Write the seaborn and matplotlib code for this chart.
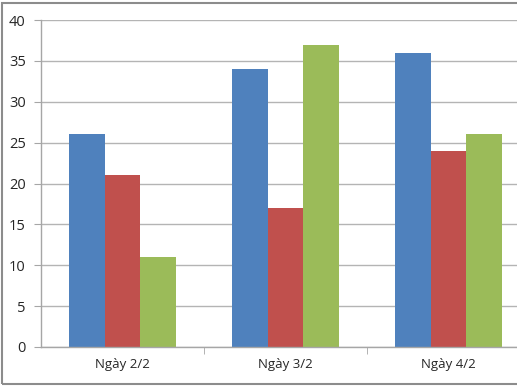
import pandas as pd
import seaborn as sns
import matplotlib.pyplot as plt
from matplotlib.patches import Rectangle

days = ["Ngày 2/2", "Ngày 3/2", "Ngày 4/2"]
series_names = ["S1", "S2", "S3"]
s1 = [26, 34, 36]
s2 = [21, 17, 24]
s3 = [11, 37, 26]
colors = ["#4F81BD", "#C0504D", "#9BBB59"]

df = pd.DataFrame({
    "day": days * 3,
    "series": [series_names[0]] * 3 + [series_names[1]] * 3 + [series_names[2]] * 3,
    "value": s1 + s2 + s3,
})

sns.set_style("white")
plt.rcParams["font.family"] = ["Open Sans", "DejaVu Sans"]

fig = plt.figure(figsize=(5.17, 3.88), dpi=100)
ax = fig.add_axes([41 / 517, 1 - 347 / 388, 489 / 517, 327 / 388])

sns.barplot(data=df, x="day", y="value", hue="series", palette=colors,
            width=0.66, ax=ax, legend=False, saturation=1, linewidth=0)

ax.set_ylim(0, 40)
ax.set_yticks(range(0, 41, 5))
ax.set_xlim(-0.5, 2.5)
ax.set_xlabel("")
ax.set_ylabel("")
ax.yaxis.grid(True, color="#b4b4b4", linewidth=1)
ax.set_axisbelow(True)

for side in ["top", "right"]:
    ax.spines[side].set_visible(False)
for side in ["left", "bottom"]:
    ax.spines[side].set_color("#a6a6a6")
    ax.spines[side].set_linewidth(1)

ax.tick_params(axis="y", which="major", length=5, color="#a6a6a6",
               labelsize=10.5, pad=6, left=True)
ax.tick_params(axis="x", which="major", length=0, labelsize=9.5, pad=8)
ax.set_xticks([0.5, 1.5], minor=True)
ax.tick_params(axis="x", which="minor", length=5, color="#a6a6a6", bottom=True)

fig.patches.append(Rectangle((2 / 517, 1 - 384 / 388), 0.999, 381 / 388,
                             transform=fig.transFigure, fill=False,
                             edgecolor="#8c8c8c", linewidth=1.5))

fig.savefig("out.png", dpi=100)
